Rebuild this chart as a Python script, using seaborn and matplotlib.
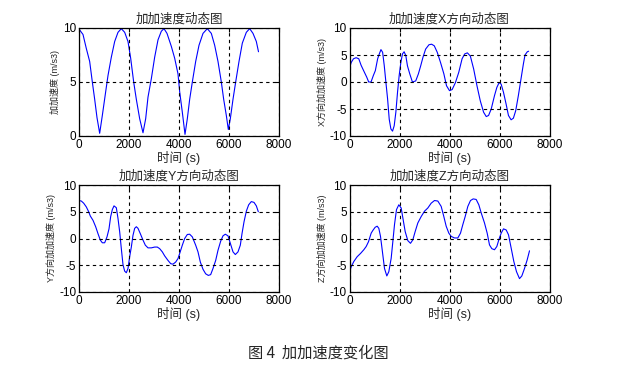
import matplotlib
matplotlib.use("Agg")
import matplotlib.pyplot as plt
import seaborn as sns
import pandas as pd

# ---- data ----
t_total = [0, 160, 293, 427, 533, 627, 720, 827, 933, 1067, 1160, 1293, 1427, 1560, 1693, 1827, 1960,
           2067, 2187, 2293, 2427, 2560, 2667, 2760, 2893, 3027, 3160, 3293, 3400, 3520, 3693, 3827,
           3960, 4027, 4133, 4240, 4333, 4427, 4533, 4667, 4800, 4960, 5133, 5293, 5427, 5560, 5693,
           5787, 5893, 5973, 6053, 6160, 6267, 6400, 6533, 6693, 6827, 6960, 7093, 7180]
j_total = [9.9, 9.4, 8.1, 6.9, 5.0, 3.4, 1.7, 0.25, 1.9, 4.1, 5.6, 7.3, 8.75, 9.6, 9.94, 9.6, 8.75,
           7.2, 5.0, 3.4, 1.6, 0.3, 1.6, 3.6, 5.3, 7.3, 8.9, 9.7, 9.94, 9.5, 8.3, 7.2,
           5.75, 4.1, 2.2, 0.15, 1.6, 3.4, 5.0, 6.9, 8.4, 9.5, 9.94, 9.5, 8.4, 6.9, 5.0,
           3.4, 1.9, 0.6, 1.6, 3.4, 5.0, 6.9, 8.6, 9.6, 9.94, 9.5, 8.75, 7.8]

t_x = [0, 66, 159, 265, 371, 464, 596, 689, 768, 861, 954, 1033, 1126, 1192, 1258, 1325, 1391, 1457,
       1523, 1589, 1656, 1722, 1788, 1854, 1921, 1987, 2053, 2119, 2185, 2252, 2318, 2411, 2517,
       2649, 2755, 2848, 2940, 3046, 3179, 3285, 3391, 3510, 3642, 3775, 3881, 4000, 4106, 4238,
       4371, 4503, 4609, 4715, 4834, 4967, 5099, 5232, 5364, 5470, 5563, 5669, 5801, 5894, 5987,
       6066, 6159, 6265, 6358, 6464, 6556, 6649, 6755, 6861, 6954, 7020, 7113, 7166]
j_x = [2.5, 3.6, 4.3, 4.5, 4.3, 3.1, 1.8, 0.9, 0.0, 0.0, 1.2, 2.1, 4.3, 5.2, 6.0, 5.5, 3.0, -0.1,
       -3.1, -6.9, -8.7, -9.1, -8.1, -5.6, -1.9, 1.2, 3.6, 5.2, 5.6, 4.9, 3.0, 1.5, 0.0,
       0.2, 1.5, 3.0, 4.6, 6.1, 6.9, 7.0, 6.7, 5.5, 3.6, 1.5, -0.7, -1.6, -1.4, -0.1,
       1.8, 4.3, 5.2, 5.4, 4.8, 2.4, -0.7, -3.5, -5.6, -6.4, -6.2, -5.0, -2.5, -1.0, -0.1,
       -0.4, -1.9, -4.1, -6.2, -7.0, -6.7, -5.3, -2.5, 0.6, 3.3, 5.0, 5.6, 5.7]

t_y = [0, 93, 187, 293, 387, 453, 560, 667, 760, 853, 933, 1027, 1120, 1200, 1267, 1333, 1400, 1493,
       1560, 1627, 1693, 1760, 1827, 1893, 1960, 2027, 2093, 2160, 2227, 2293, 2360, 2453, 2560,
       2653, 2760, 2893, 3027, 3133, 3227, 3333, 3427, 3560, 3667, 3760, 3867, 3960, 4027, 4133,
       4227, 4333, 4427, 4533, 4667, 4760, 4853, 4960, 5067, 5173, 5267, 5360, 5467, 5560, 5667,
       5760, 5853, 5960, 6053, 6160, 6253, 6360, 6453, 6520, 6600, 6693, 6787, 6893, 7000, 7093, 7173]
j_y = [7.1, 7.0, 6.6, 5.9, 5.0, 4.2, 3.4, 2.2, 0.9, -0.3, -0.8, -0.8, 0.3, 1.8, 4.1, 5.4, 6.1, 5.75,
       3.75, 1.25, -1.9, -4.9, -6.1, -6.4, -5.6, -3.4, -1.6, 0.6, 1.9, 2.2, 1.9, 0.9, -0.3,
       -1.25, -1.75, -1.75, -1.6, -1.6, -1.9, -2.5, -3.25, -4.1, -4.7, -4.8, -4.4, -3.75, -2.8, -1.25,
       0.0, 0.75, 0.8, 0.3, -1.25, -2.5, -4.4, -5.75, -6.6, -6.9, -6.75, -5.6, -4.1, -2.2, -0.5,
       0.5, 0.8, 0.5, -0.9, -2.5, -3.0, -2.5, -1.25, 0.9, 3.1, 5.1, 6.3, 6.9, 6.75, 6.1, 5.0]

t_z = [0, 67, 173, 307, 440, 573, 667, 760, 867, 933, 1027, 1107, 1173, 1240, 1307, 1400, 1493, 1573,
       1667, 1733, 1800, 1880, 1973, 2067, 2147, 2227, 2333, 2440, 2533, 2627, 2733, 2867, 3000,
       3133, 3267, 3400, 3533, 3667, 3773, 3867, 3973, 4067, 4200, 4333, 4440, 4533, 4627, 4733,
       4840, 4947, 5067, 5173, 5267, 5400, 5507, 5600, 5693, 5800, 5893, 5973, 6067, 6160, 6267,
       6360, 6467, 6573, 6680, 6800, 6893, 7000, 7107, 7200]
j_z = [-6.3, -5.3, -4.3, -3.4, -2.8, -2.1, -1.5, -0.6, 1.0, 1.5, 2.1, 2.3, 1.9, 0.4, -2.1, -5.6, -7.0, -6.2,
       -3.7, -0.6, 2.6, 5.4, 6.3, 5.7, 3.5, 1.3, -0.4, -0.9, -0.25, 1.3, 2.9, 4.1, 5.1,
       5.7, 6.6, 7.1, 7.0, 6.0, 4.1, 2.3, 1.0, 0.4, 0.1, 0.1, 1.0, 2.6, 4.1, 6.0,
       7.1, 7.4, 7.3, 6.3, 4.8, 2.9, 1.0, -1.2, -1.9, -2.1, -1.5, -0.25, 1.0, 1.8, 1.6,
       0.7, -1.8, -4.3, -6.2, -7.5, -7.0, -5.6, -4.0, -2.3]

titles = ["加加速度动态图", "加加速度X方向动态图", "加加速度Y方向动态图", "加加速度Z方向动态图"]
ylabels = ["加加速度 (m/s3)", "X方向加加速度 (m/s3)", "Y方向加加速度 (m/s3)", "Z方向加加速度 (m/s3)"]
xlabel = "时间 (s)"
caption = "图 4  加加速度变化图"
x_ticks = [0, 2000, 4000, 6000, 8000]
y_ticks_total = [0, 5, 10]
y_ticks_dir = [-10, -5, 0, 5, 10]

# ---- plotting ----
sns.set_style("white")
plt.rcParams['font.family'] = ['Liberation Sans', 'Noto Sans CJK SC', 'DejaVu Sans']
plt.rcParams['axes.unicode_minus'] = False

fig = plt.figure(figsize=(6.36, 3.77), dpi=100)
W, H = 636.0, 377.0
positions = [
    (79, 28, 200, 108),
    (349.5, 28, 200, 108),
    (79, 185, 200, 107),
    (349.5, 185, 200, 107),
]
series = [(t_total, j_total), (t_x, j_x), (t_y, j_y), (t_z, j_z)]

for i, ((px, py, pw, ph), (tt, jj)) in enumerate(zip(positions, series)):
    ax = fig.add_axes([px / W, 1 - (py + ph) / H, pw / W, ph / H])
    df = pd.DataFrame({"t": tt, "j": jj})
    sns.lineplot(data=df, x="t", y="j", ax=ax, color=(0, 0, 1), linewidth=0.8)
    ax.set_xlim(0, 8000)
    ax.set_xticks(x_ticks)
    if i == 0:
        ax.set_ylim(0, 10)
        ax.set_yticks(y_ticks_total)
    else:
        ax.set_ylim(-10, 10)
        ax.set_yticks(y_ticks_dir)
    ax.grid(True, color='black', linestyle=(0, (3, 3)), linewidth=0.8)
    ax.set_axisbelow(False)
    for s in ax.spines.values():
        s.set_visible(True)
        s.set_color('black')
        s.set_linewidth(0.9)
    ax.tick_params(direction='in', length=3, width=0.8, labelsize=8.5, pad=2,
                   top=True, right=True, colors='black')
    ax.set_title(titles[i], fontsize=9, pad=4)
    ax.set_xlabel(xlabel, fontsize=9, labelpad=0)
    ax.set_ylabel(ylabels[i], fontsize=6.5, labelpad=2)

fig.text(318 / W, 1 - 353 / H, caption, ha='center', va='center', fontsize=11,
         family=['Noto Sans CJK SC', 'DejaVu Sans'])

fig.savefig("out.png", dpi=100, facecolor='white')
